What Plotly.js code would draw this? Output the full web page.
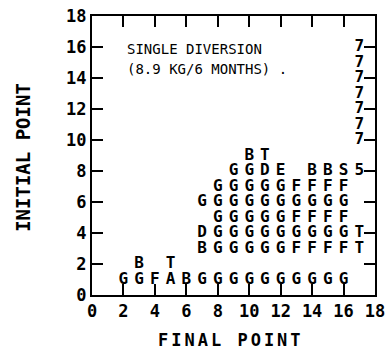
<!DOCTYPE html>
<html>
<head>
<meta charset="utf-8">
<script src="https://cdn.plot.ly/plotly-3.0.1.min.js"></script>
<style>html,body{margin:0;padding:0;background:#fff;}#chart{width:391px;height:355px;}</style>
</head>
<body>
<div id="chart"></div>
<script>
// Tick labels
const tickVals = [0, 2, 4, 6, 8, 10, 12, 14, 16, 18];
const tickText = ["0", "2", "4", "6", "8", "10", "12", "14", "16", "18"];

// Transition codes: final point (x), initial point (y), code letter
const finalPoint = [
  2, 3, 4, 5, 6, 7, 8, 9, 10, 11, 12, 13, 14, 15, 16,
  3, 5,
  7, 8, 9, 10, 11, 12, 13, 14, 15, 16, 17,
  7, 8, 9, 10, 11, 12, 13, 14, 15, 16, 17,
  8, 9, 10, 11, 12, 13, 14, 15, 16,
  7, 8, 9, 10, 11, 12, 13, 14, 15, 16,
  8, 9, 10, 11, 12, 13, 14, 15, 16,
  9, 10, 11, 12, 14, 15, 16, 17,
  10, 11,
  17, 17, 17, 17, 17, 17, 17
];
const initialPoint = [
  1, 1, 1, 1, 1, 1, 1, 1, 1, 1, 1, 1, 1, 1, 1,
  2, 2,
  3, 3, 3, 3, 3, 3, 3, 3, 3, 3, 3,
  4, 4, 4, 4, 4, 4, 4, 4, 4, 4, 4,
  5, 5, 5, 5, 5, 5, 5, 5, 5,
  6, 6, 6, 6, 6, 6, 6, 6, 6, 6,
  7, 7, 7, 7, 7, 7, 7, 7, 7,
  8, 8, 8, 8, 8, 8, 8, 8,
  9, 9,
  10, 11, 12, 13, 14, 15, 16
];
const codes = [
  "G", "G", "F", "A", "B", "G", "G", "G", "G", "G", "G", "G", "G", "G", "G",
  "B", "T",
  "B", "G", "G", "G", "G", "G", "F", "F", "F", "F", "T",
  "D", "G", "G", "G", "G", "G", "G", "G", "G", "G", "T",
  "G", "G", "G", "G", "G", "F", "F", "F", "F",
  "G", "G", "G", "G", "G", "G", "G", "G", "G", "G",
  "G", "G", "G", "G", "G", "F", "F", "F", "F",
  "G", "G", "D", "E", "B", "B", "S", "5",
  "B", "T",
  "7", "7", "7", "7", "7", "7", "7"
];

const noteLine1 = "SINGLE DIVERSION";
const noteLine2 = "(8.9 KG/6 MONTHS) .";

const mono = "DejaVu Sans Mono";

const trace = {
  type: "scatter",
  mode: "text",
  x: finalPoint,
  y: initialPoint,
  text: codes,
  textposition: "middle center",
  textfont: {family: mono, size: 16, weight: "bold", color: "#000"},
  hoverinfo: "none",
  cliponaxis: false,
  showlegend: false
};

function axis(extra) {
  return Object.assign({
    range: [0, 18],
    tickmode: "array",
    tickvals: tickVals,
    ticktext: tickText,
    ticks: "inside",
    ticklen: 11,
    tickwidth: 2,
    tickcolor: "#000",
    showline: true,
    linewidth: 2,
    linecolor: "#000",
    mirror: "ticks",
    showgrid: false,
    zeroline: false,
    fixedrange: true,
    tickfont: {family: mono, size: 17, weight: "bold", color: "#000"}
  }, extra || {});
}

const layout = {
  width: 391,
  height: 355,
  margin: {l: 92, r: 16, t: 16, b: 60},
  paper_bgcolor: "#fff",
  plot_bgcolor: "#fff",
  showlegend: false,
  xaxis: axis(),
  yaxis: axis(),
  annotations: [
    {xref: "x", yref: "y", x: 2.1, y: 15.87, xanchor: "left", yanchor: "middle",
     text: noteLine1, showarrow: false, font: {family: mono, size: 14, color: "#000"}},
    {xref: "x", yref: "y", x: 2.1, y: 14.6, xanchor: "left", yanchor: "middle",
     text: noteLine2, showarrow: false, font: {family: mono, size: 14, color: "#000"}},
    {xref: "paper", yref: "paper", x: -0.244, y: 0.495, xanchor: "center", yanchor: "middle",
     textangle: -90, text: "INITIAL POINT", showarrow: false,
     font: {family: mono, size: 19, weight: "bold", color: "#000"}},
    {xref: "paper", yref: "paper", x: 0.49, y: -0.16, xanchor: "center", yanchor: "middle",
     text: "<span style=\"letter-spacing:3px\">FINAL POINT</span>", showarrow: false,
     font: {family: mono, size: 17, weight: "bold", color: "#000"}}
  ]
};

Plotly.newPlot("chart", [trace], layout, {displayModeBar: false});
</script>
</body>
</html>
